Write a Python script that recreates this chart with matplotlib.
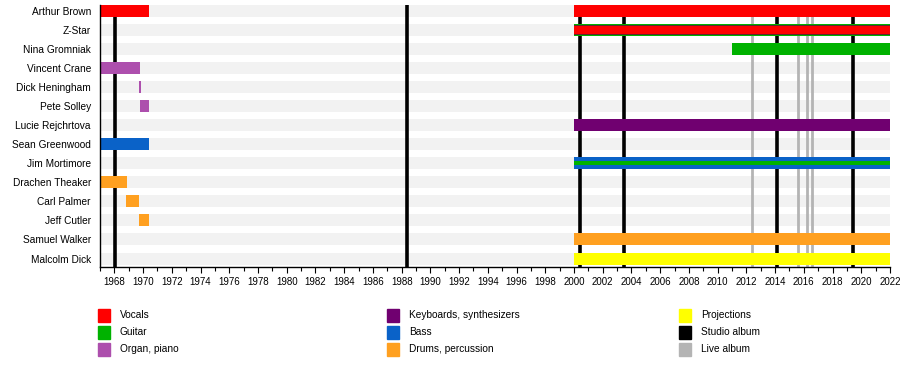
import matplotlib
matplotlib.use("Agg")
import matplotlib.pyplot as plt
from matplotlib.patches import Rectangle

plt.rcParams['font.family'] = ['Liberation Sans', 'DejaVu Sans']

members = ['Arthur Brown', 'Z-Star', 'Nina Gromniak', 'Vincent Crane',
           'Dick Heningham', 'Pete Solley', 'Lucie Rejchrtova', 'Sean Greenwood',
           'Jim Mortimore', 'Drachen Theaker', 'Carl Palmer', 'Jeff Cutler',
           'Samuel Walker', 'Malcolm Dick']

colors = {
    'Vocals': '#ff0000',
    'Guitar': '#00b200',
    'Organ, piano': '#ad4fad',
    'Keyboards, synthesizers': '#700070',
    'Bass': '#0a62c8',
    'Drums, percussion': '#ffa020',
    'Projections': '#ffff00',
    'Studio album': '#000000',
    'Live album': '#b4b4b4',
}

# (member, role, start, end)
periods = [
    ('Arthur Brown', 'Vocals', 1967.0, 1970.4),
    ('Arthur Brown', 'Vocals', 2000.0, 2022.0),
    ('Z-Star', 'Guitar', 2000.0, 2022.0),
    ('Nina Gromniak', 'Guitar', 2011.0, 2022.0),
    ('Vincent Crane', 'Organ, piano', 1967.0, 1969.75),
    ('Dick Heningham', 'Organ, piano', 1969.7, 1969.85),
    ('Pete Solley', 'Organ, piano', 1969.8, 1970.4),
    ('Lucie Rejchrtova', 'Keyboards, synthesizers', 2000.0, 2022.0),
    ('Sean Greenwood', 'Bass', 1967.0, 1970.4),
    ('Jim Mortimore', 'Bass', 2000.0, 2022.0),
    ('Drachen Theaker', 'Drums, percussion', 1967.0, 1968.85),
    ('Carl Palmer', 'Drums, percussion', 1968.8, 1969.75),
    ('Jeff Cutler', 'Drums, percussion', 1969.7, 1970.4),
    ('Samuel Walker', 'Drums, percussion', 2000.0, 2022.0),
    ('Malcolm Dick', 'Projections', 2000.0, 2022.0),
]

# secondary roles drawn as a thinner inner bar
inner = [
    ('Z-Star', 'Vocals', 2000.0, 2022.0),
    ('Jim Mortimore', 'Guitar', 2000.0, 2022.0),
]

studio_albums = [1968.07, 1988.37, 2000.45, 2003.45, 2014.1, 2019.45]
live_albums = [2012.4, 2015.6, 2016.2, 2016.6]

start_year, end_year = 1967, 2022

fig = plt.figure(figsize=(9, 3.65), dpi=100)
ax = fig.add_axes([100 / 900, 1 - 267 / 365, 790 / 900, 262 / 365])

bar_h = 0.63
row = {m: i for i, m in enumerate(members)}

# background stripes
for i in range(len(members)):
    ax.barh(i, end_year - start_year, left=start_year, height=bar_h,
            color='#f2f2f2', zorder=0)

for x in studio_albums:
    ax.axvline(x, color=colors['Studio album'], lw=2.6, zorder=1)
for x in live_albums:
    ax.axvline(x, color=colors['Live album'], lw=2, zorder=1)

for m, role, s, e in periods:
    ax.barh(row[m], e - s, left=s, height=bar_h, color=colors[role], zorder=2)

for m, role, s, e in inner:
    if role == 'Vocals':
        ax.barh(row[m], e - s, left=s, height=0.5, color='#5a2a2a', zorder=3)
        ax.barh(row[m], e - s, left=s, height=0.4, color=colors[role], zorder=4)
    else:
        ax.barh(row[m], e - s, left=s, height=0.2, color=colors[role], zorder=3)

ax.set_xlim(start_year, end_year)
ax.set_ylim(-0.315 + 262 / 19.04, -0.315)
ax.set_yticks(range(len(members)))
ax.set_yticklabels(members, fontsize=7.3)
ax.tick_params(axis='y', length=0, pad=6.5)
ax.set_xticks(range(1968, end_year + 1, 2))
ax.set_xticks(range(start_year, end_year + 1), minor=True)
ax.tick_params(axis='x', which='major', length=4, width=0.8, labelsize=7, pad=3)
ax.tick_params(axis='x', which='minor', length=3, width=0.8)
for side in ['top', 'right']:
    ax.spines[side].set_visible(False)
ax.spines['left'].set_linewidth(1)
ax.spines['bottom'].set_linewidth(1)

# legend
legend_cols = [
    ['Vocals', 'Guitar', 'Organ, piano'],
    ['Keyboards, synthesizers', 'Bass', 'Drums, percussion'],
    ['Projections', 'Studio album', 'Live album'],
]
col_x = [98, 387, 679]
for cx, labels in zip(col_x, legend_cols):
    for j, lab in enumerate(labels):
        yc = 315 + 17 * j
        fig.add_artist(Rectangle((cx / 900, 1 - (yc + 6.5) / 365), 12 / 900, 13 / 365,
                                 transform=fig.transFigure, color=colors[lab]))
        fig.text((cx + 22) / 900, 1 - yc / 365, lab, fontsize=7.3, va='center', ha='left')

fig.savefig('out.png', dpi=100)
